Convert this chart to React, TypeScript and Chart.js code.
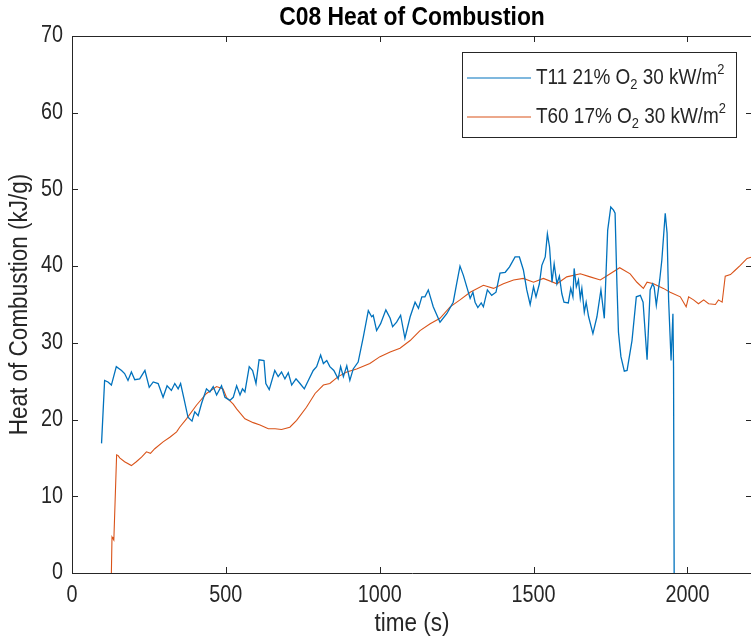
import { useEffect, useRef } from "react";
import { Chart, registerables } from "chart.js";

Chart.register(...registerables);

// Axis ticks
const xTicks = [0, 500, 1000, 1500, 2000];
const yTicks = [0, 10, 20, 30, 40, 50, 60, 70];

// T11: 21% O2, 30 kW/m2 — time (s) and heat of combustion (kJ/g)
const tT11 = [96, 106, 117, 128, 144, 161, 171, 182, 193, 204, 220, 237, 251, 264, 280, 296, 309, 323, 334, 345, 353, 363, 377, 390, 399, 410, 421, 437, 448, 459, 470, 486, 497, 513, 524, 535, 546, 554, 562, 576, 587, 598, 608, 624, 630, 641, 659, 670, 681, 692, 703, 714, 728, 741, 755, 768, 784, 795, 808, 817, 828, 838, 851, 865, 873, 882, 893, 903, 914, 930, 947, 963, 974, 979, 990, 1003, 1020, 1034, 1042, 1055, 1068, 1082, 1099, 1115, 1126, 1137, 1147, 1158, 1174, 1196, 1218, 1239, 1250, 1261, 1272, 1283, 1294, 1303, 1310, 1319, 1330, 1337, 1350, 1364, 1378, 1391, 1408, 1422, 1440, 1454, 1467, 1478, 1489, 1500, 1508, 1519, 1527, 1538, 1545, 1552, 1560, 1567, 1576, 1584, 1592, 1599, 1613, 1621, 1628, 1632, 1639, 1646, 1652, 1657, 1665, 1671, 1679, 1693, 1706, 1719, 1730, 1741, 1751, 1760, 1765, 1771, 1776, 1784, 1795, 1804, 1820, 1834, 1847, 1856, 1869, 1879, 1887, 1892, 1899, 1910, 1917, 1928, 1934, 1939, 1947, 1953, 1955, 1957];
const vT11 = [16.9, 25.1, 24.9, 24.5, 26.9, 26.4, 26.0, 25.1, 26.2, 25.2, 25.3, 26.4, 24.2, 24.9, 24.7, 22.9, 24.4, 23.8, 24.7, 24.0, 24.7, 22.9, 20.3, 19.8, 21.0, 20.5, 22.1, 24.0, 23.6, 24.3, 23.2, 24.4, 22.9, 22.5, 22.9, 24.4, 23.2, 24.0, 23.6, 26.9, 26.4, 24.7, 27.8, 27.7, 24.7, 23.9, 26.4, 25.6, 26.2, 25.3, 26.1, 24.5, 25.3, 24.7, 24.0, 25.1, 26.4, 26.9, 28.4, 27.3, 27.7, 26.9, 26.4, 25.3, 26.9, 25.6, 27.0, 25.1, 26.6, 27.5, 30.8, 34.2, 33.4, 33.6, 31.6, 32.5, 34.3, 33.2, 32.1, 32.7, 33.6, 30.6, 33.4, 35.3, 34.5, 36.0, 36.0, 36.9, 34.7, 32.7, 33.8, 35.3, 37.7, 40.0, 38.8, 37.3, 35.8, 36.6, 35.3, 34.6, 35.2, 34.7, 36.9, 36.2, 36.6, 39.1, 39.2, 39.9, 41.2, 41.2, 39.5, 36.9, 35.0, 37.3, 36.0, 37.7, 40.1, 41.2, 44.2, 42.5, 37.9, 40.3, 37.7, 38.7, 36.4, 35.3, 35.2, 37.1, 36.0, 39.7, 37.3, 38.2, 35.8, 37.1, 34.0, 35.3, 33.4, 31.2, 33.4, 36.9, 33.2, 44.7, 47.7, 47.3, 46.9, 37.7, 31.4, 28.2, 26.3, 26.4, 30.3, 36.0, 36.2, 35.3, 27.8, 36.9, 37.7, 37.3, 34.9, 38.2, 40.8, 46.9, 44.3, 35.6, 27.7, 33.8, 26.9, 0];

// T60: 17% O2, 30 kW/m2
const tT60 = [128, 130, 133, 136, 145, 150, 155, 171, 193, 209, 226, 242, 255, 269, 296, 318, 340, 350, 372, 405, 437, 470, 491, 502, 524, 535, 562, 589, 611, 638, 660, 681, 708, 730, 762, 790, 817, 838, 865, 893, 925, 968, 1001, 1034, 1066, 1099, 1131, 1164, 1196, 1229, 1261, 1294, 1337, 1370, 1402, 1435, 1467, 1500, 1532, 1576, 1608, 1652, 1684, 1717, 1749, 1780, 1814, 1836, 1857, 1869, 1890, 1922, 1944, 1977, 1996, 2004, 2020, 2036, 2053, 2069, 2091, 2101, 2113, 2123, 2140, 2156, 2172, 2194, 2210];
const vT60 = [0, 4.7, 4.5, 4.3, 15.4, 15.3, 15.0, 14.5, 14.0, 14.5, 15.1, 15.8, 15.6, 16.2, 17.1, 17.7, 18.4, 19.0, 20.1, 21.9, 23.4, 24.3, 24.0, 22.9, 22.0, 21.4, 20.1, 19.6, 19.3, 18.8, 18.8, 18.7, 19.0, 19.9, 21.6, 23.4, 24.5, 24.7, 25.6, 26.2, 26.6, 27.3, 28.2, 28.8, 29.3, 30.3, 31.6, 32.5, 33.2, 34.7, 35.6, 36.6, 37.5, 37.1, 37.7, 38.2, 38.4, 37.9, 38.4, 37.7, 38.6, 39.0, 38.6, 38.2, 39.0, 39.8, 39.0, 37.9, 37.1, 37.9, 37.7, 37.1, 36.6, 36.0, 34.7, 36.0, 35.6, 35.1, 35.6, 35.1, 35.0, 35.6, 35.3, 38.7, 38.9, 39.5, 40.1, 41.0, 41.2];

const titleText = "C08 Heat of Combustion";
const xTitle = "time (s)";
const yTitle = "Heat of Combustion (kJ/g)";
const seriesNames = ["T11 21% O₂ 30 kW/m²", "T60 17% O₂ 30 kW/m²"];
const seriesColors = ["#0072BD", "#D95319"];
// legend text pieces: [text, shift] where shift is 0 normal, 1 subscript, -1 superscript
const legendParts: [string, number][][] = [
  [["T11 21% O", 0], ["2", 1], [" 30 kW/m", 0], ["2", -1]],
  [["T60 17% O", 0], ["2", 1], [" 30 kW/m", 0], ["2", -1]],
];

const FONT = '"Liberation Sans", Arial, Helvetica, sans-serif';
const INK = "#262626";
const SX = 0.86; // horizontal text compression (narrow Helvetica look)

function squeezedText(
  ctx: CanvasRenderingContext2D,
  text: string,
  x: number,
  y: number,
  font: string,
  align: CanvasTextAlign,
  color: string,
  sx: number,
  rotate = false
) {
  ctx.save();
  ctx.translate(x, y);
  if (rotate) ctx.rotate(-Math.PI / 2);
  ctx.scale(sx, 1);
  ctx.font = font;
  ctx.fillStyle = color;
  ctx.textAlign = align;
  ctx.textBaseline = "middle";
  ctx.fillText(text, 0, 0);
  ctx.restore();
}

const boxPlugin = {
  id: "matlabBox",
  afterDraw(chart: any) {
    const { ctx, chartArea } = chart;
    const { left, right, top, bottom } = chartArea;
    const xs = chart.scales.x;
    const ys = chart.scales.y;
    const cx = (left + right) / 2;
    const cy = (top + bottom) / 2;
    ctx.save();

    // box edges and inward ticks
    ctx.strokeStyle = INK;
    ctx.lineWidth = 1;
    ctx.beginPath();
    ctx.moveTo(left, top + 0.5);
    ctx.lineTo(right, top + 0.5);
    ctx.moveTo(right - 0.5, top);
    ctx.lineTo(right - 0.5, bottom);
    const tl = 6;
    xTicks.forEach((v) => {
      const px = Math.round(xs.getPixelForValue(v)) + 0.5;
      ctx.moveTo(px, bottom);
      ctx.lineTo(px, bottom - tl);
      ctx.moveTo(px, top);
      ctx.lineTo(px, top + tl);
    });
    yTicks.forEach((v) => {
      const py = Math.round(ys.getPixelForValue(v)) + 0.5;
      ctx.moveTo(left, py);
      ctx.lineTo(left + tl, py);
      ctx.moveTo(right, py);
      ctx.lineTo(right - tl, py);
    });
    ctx.stroke();

    // tick labels
    xTicks.forEach((v) => {
      squeezedText(ctx, String(v), xs.getPixelForValue(v), bottom + 23, `23px ${FONT}`, "center", INK, SX);
    });
    yTicks.forEach((v) => {
      squeezedText(ctx, String(v), left - 9, ys.getPixelForValue(v), `23px ${FONT}`, "right", INK, SX);
    });

    // titles
    squeezedText(ctx, titleText, cx, 18, `bold 26px ${FONT}`, "center", "#000", 0.88);
    squeezedText(ctx, xTitle, cx, 624, `25px ${FONT}`, "center", INK, 0.9);
    squeezedText(ctx, yTitle, 20, cy, `25px ${FONT}`, "center", INK, 0.9, true);

    // legend
    const lx = 462.5, ly = 52.5, lw = 274, lh = 85;
    ctx.fillStyle = "#fff";
    ctx.fillRect(lx, ly, lw, lh);
    ctx.strokeStyle = INK;
    ctx.lineWidth = 1;
    ctx.strokeRect(lx, ly, lw, lh);
    const rows = [78, 117];
    rows.forEach((ry, i) => {
      ctx.strokeStyle = seriesColors[i];
      ctx.lineWidth = 1.2;
      ctx.beginPath();
      ctx.moveTo(467, ry);
      ctx.lineTo(531, ry);
      ctx.stroke();
      let tx = 536;
      legendParts[i].forEach(([txt, shift]) => {
        const font = shift === 0 ? `22px ${FONT}` : `15px ${FONT}`;
        const dy = shift === 1 ? 7 : shift === -1 ? -8 : 0;
        squeezedText(ctx, txt, tx, ry + dy, font, "left", INK, SX);
        ctx.font = font;
        tx += ctx.measureText(txt).width * SX;
      });
    });
    ctx.restore();
  },
};

export default function App() {
  const ref = useRef<HTMLCanvasElement>(null);

  useEffect(() => {
    if (!ref.current) return;
    const chart = new Chart(ref.current, {
      type: "line",
      data: {
        datasets: [
          {
            label: seriesNames[0],
            data: tT11.map((t, i) => ({ x: t, y: vT11[i] })),
            borderColor: seriesColors[0],
            borderWidth: 1.3,
            pointRadius: 0,
            tension: 0,
            fill: false,
          },
          {
            label: seriesNames[1],
            data: tT60.map((t, i) => ({ x: t, y: vT60[i] })),
            borderColor: seriesColors[1],
            borderWidth: 1.1,
            pointRadius: 0,
            tension: 0,
            fill: false,
          },
        ],
      },
      options: {
        animation: false,
        responsive: false,
        devicePixelRatio: 1,
        layout: { padding: { left: 0, right: 18, top: 36, bottom: 0 } },
        plugins: {
          legend: { display: false },
          tooltip: { enabled: false },
          title: { display: false },
        },
        scales: {
          x: {
            type: "linear",
            min: 0,
            max: 2210,
            afterBuildTicks: (s: any) => {
              s.ticks = xTicks.map((v) => ({ value: v }));
            },
            afterFit: (s: any) => {
              s.height = 69;
            },
            grid: { display: false, drawTicks: false },
            border: { display: true, color: INK, width: 1 },
            ticks: { display: false },
          },
          y: {
            type: "linear",
            min: 0,
            max: 70,
            afterBuildTicks: (s: any) => {
              s.ticks = yTicks.map((v) => ({ value: v }));
            },
            afterFit: (s: any) => {
              s.width = 72;
            },
            grid: { display: false, drawTicks: false },
            border: { display: true, color: INK, width: 1 },
            ticks: { display: false },
          },
        },
      },
      plugins: [boxPlugin],
    } as any);
    return () => chart.destroy();
  }, []);

  return (
    <div
      style={{
        position: "fixed",
        left: 0,
        top: 0,
        width: 751,
        height: 642,
        overflow: "hidden",
        background: "#fff",
      }}
    >
      <canvas ref={ref} width={770} height={642} style={{ display: "block" }} />
    </div>
  );
}
